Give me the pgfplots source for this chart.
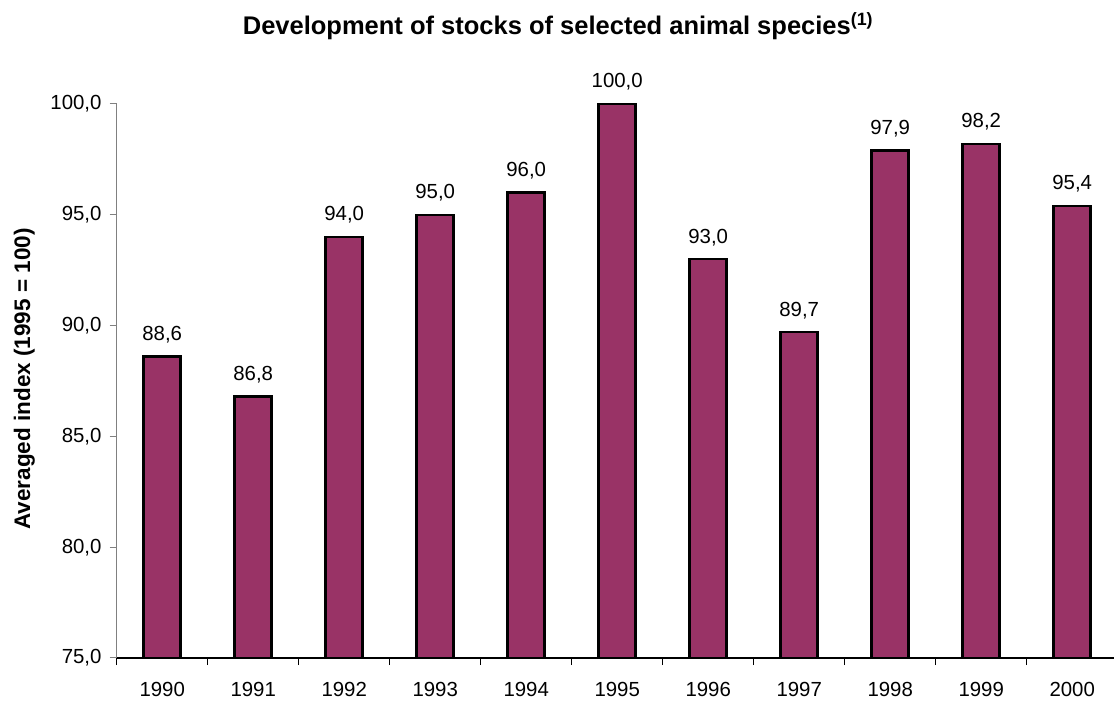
\documentclass[border=0pt]{standalone}
\usepackage{fontspec}
\setmainfont{Liberation Sans}
\usepackage{pgfplots}
\usepackage{pgfplotstable}
\pgfplotsset{compat=1.18}
\pgfkeys{/pgf/number format/assume math mode=true}

\definecolor{barplum}{HTML}{993366}
\definecolor{axgray}{HTML}{808080}

% index values, 1990 .. 2000 (x = position)
\pgfplotstableread{
x v
0 88.6
1 86.8
2 94.0
3 95.0
4 96.0
5 100.0
6 93.0
7 89.7
8 97.9
9 98.2
10 95.4
}\stocks

\begin{document}
\begin{tikzpicture}
\begin{axis}[
    at={(0,0)}, anchor=south west,
    scale only axis,
    width=1001bp, height=554bp,
    xmin=-0.5, xmax=10.5,
    ymin=0, ymax=25,
    clip=false,
    axis x line*=bottom,
    axis y line*=left,
    x axis line style={black, line width=1.2bp, -},
    y axis line style={axgray, line width=1.2bp, -},
    tick align=outside,
    major tick length=7bp,
    xtick={-0.5,0.5,...,10.5},
    x tick label as interval,
    xticklabels={1990,1991,1992,1993,1994,1995,1996,1997,1998,1999,2000},
    xtick style={black, line width=1bp},
    ytick={0,5,...,25},
    ytick style={axgray, line width=1bp},
    yticklabel={\pgfmathparse{\tick+75}\pgfmathprintnumber[fixed,fixed zerofill,precision=1,use comma]{\pgfmathresult}},
    tick label style={font=\fontsize{20.4bp}{24bp}\selectfont},
    xticklabel style={anchor=north, inner sep=0pt, yshift=-17bp},
    yticklabel style={anchor=east, inner sep=0pt, xshift=-8bp},
    ylabel={\textbf{Averaged index (1995 = 100)}},
    ylabel style={font=\fontsize{22.5bp}{26bp}\selectfont, at={(axis description cs:-0.0866,0.5036)}, anchor=base},
    ybar,
    bar width=37bp,
    point meta=explicit,
    nodes near coords={\pgfmathprintnumber[fixed,fixed zerofill,precision=1,use comma]{\pgfplotspointmeta}},
    every node near coord/.append style={font=\fontsize{20.4bp}{24bp}\selectfont, anchor=base, inner sep=0pt, yshift=16bp, black},
]
\addplot[fill=barplum, draw=black, line width=2.5bp]
    table[x=x, y expr=\thisrow{v}-75, meta=v] {\stocks};
\end{axis}
\node[anchor=base, font=\fontsize{25.5bp}{30bp}\selectfont\bfseries] at (441.3bp,623bp)
    {Development of stocks of selected animal species\textsuperscript{(1)}};
\pgfresetboundingbox
\useasboundingbox (-116.7bp,-46bp) rectangle (997.3bp,658bp);
\end{tikzpicture}
\end{document}
